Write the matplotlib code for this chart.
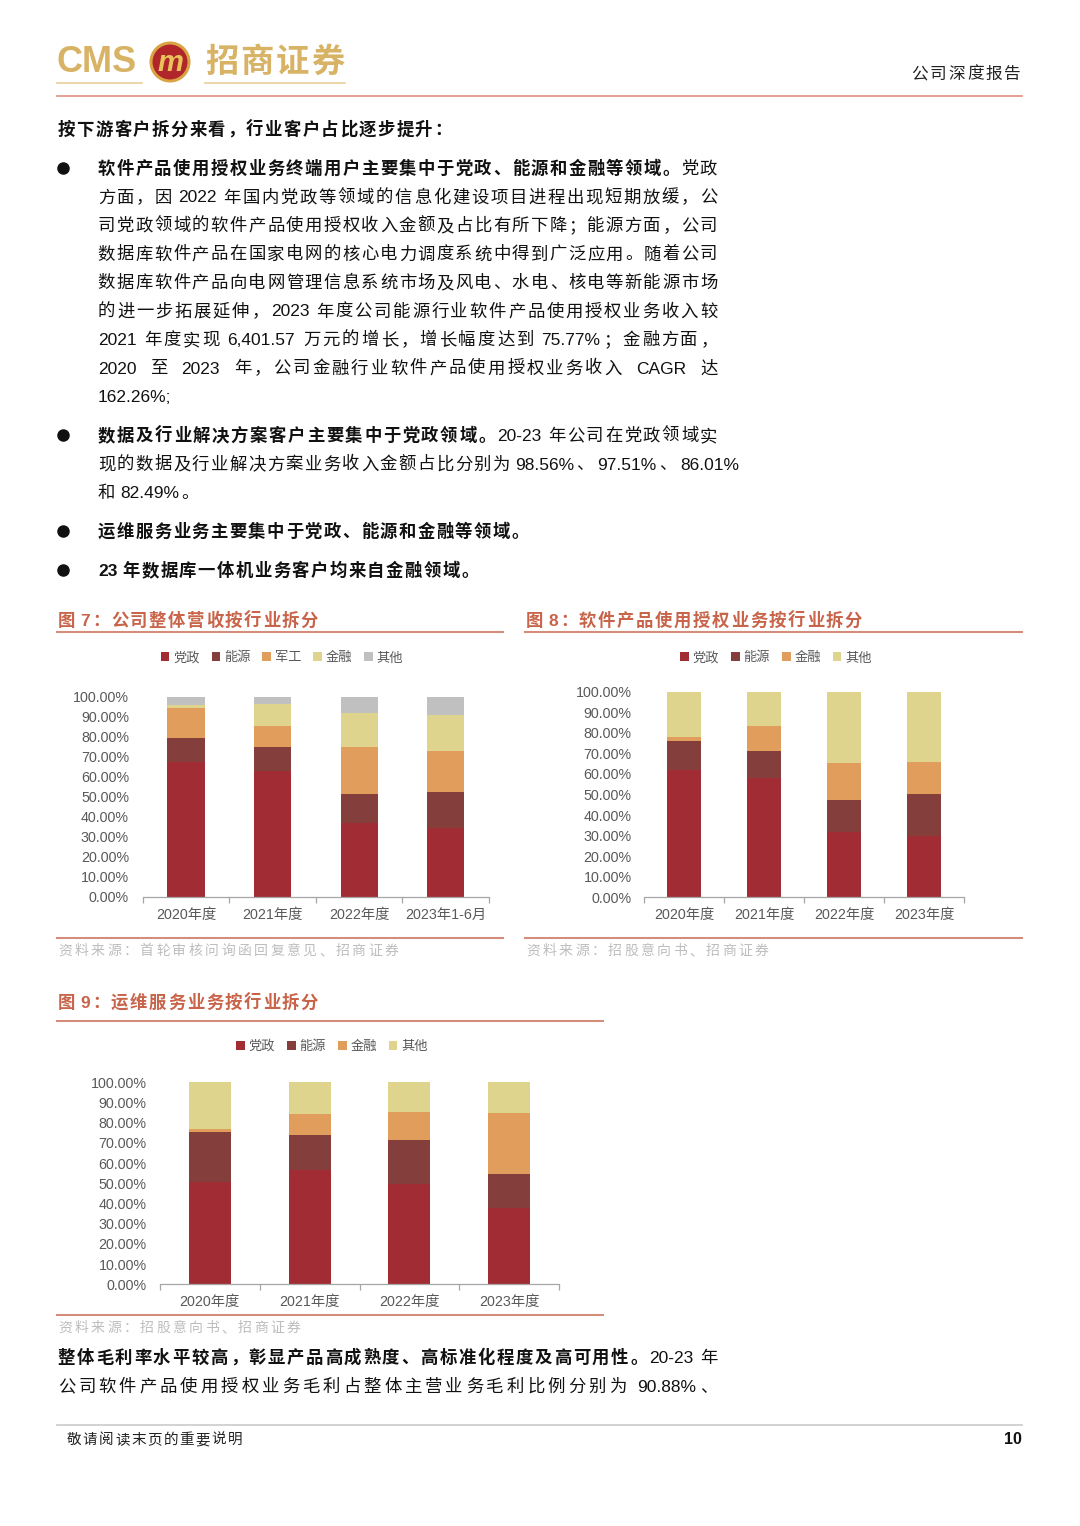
import numpy as np
import matplotlib
matplotlib.use('Agg')
import matplotlib.pyplot as plt
from matplotlib.patches import Circle

plt.rcParams['font.family'] = ['Liberation Sans', 'Noto Sans CJK SC', 'DejaVu Sans']

W, H = 1080, 1526

# 图7 公司整体营收按行业拆分 (%)
years7 = ['2020年度', '2021年度', '2022年度', '2023年1-6月']
names7 = ['党政', '能源', '军工', '金融', '其他']
dangzheng7 = [67.5, 62.8, 36.8, 34.2]
nengyuan7 = [12.0, 11.9, 14.7, 18.1]
jungong7 = [14.8, 10.8, 23.5, 20.5]
jinrong7 = [1.4, 10.8, 16.8, 17.9]
qita7 = [4.3, 3.7, 8.2, 9.3]

# 图8 软件产品使用授权业务按行业拆分 (%)
years8 = ['2020年度', '2021年度', '2022年度', '2023年度']
names8 = ['党政', '能源', '金融', '其他']
dangzheng8 = [61.9, 58.2, 31.9, 29.7]
nengyuan8 = [14.1, 13.1, 15.3, 20.5]
jinrong8 = [2.0, 12.0, 18.0, 15.8]
qita8 = [22.0, 16.7, 34.8, 34.0]

# 图9 运维服务业务按行业拆分 (%)
years9 = ['2020年度', '2021年度', '2022年度', '2023年度']
names9 = ['党政', '能源', '金融', '其他']
dangzheng9 = [50.7, 56.6, 49.8, 38.0]
nengyuan9 = [24.5, 17.3, 21.5, 16.6]
jinrong9 = [1.5, 10.3, 13.8, 30.4]
qita9 = [23.3, 15.8, 14.9, 15.0]

RED = '#A12C33'
BROWN = '#843F3C'
ORANGE = '#E19D5B'
BEIGE = '#DED48E'
GREY = '#C0C0C0'
TITLE_C = '#C8644A'
LINE_C = '#D38D7A'

fig = plt.figure(figsize=(W / 100, H / 100), dpi=100)
pg = fig.add_axes([0, 0, 1, 1], zorder=0)
pg.set_xlim(0, W)
pg.set_ylim(H, 0)
pg.axis('off')
renderer = fig.canvas.get_renderer()

CJK = ['Noto Sans CJK SC']
LAT = ['Liberation Sans']
PUNCT = '，。、；：'


def split_tokens(s):
    toks, buf = [], ''
    for ch in s:
        if ord(ch) < 128 and ch != ' ':
            buf += ch
        else:
            if buf:
                toks.append(buf)
                buf = ''
            toks.append(ch)
    if buf:
        toks.append(buf)
    return toks


def put_line(x0, yc, segs, adv, size, color='#111111', x1=None, space=3.5, sw=2):
    # segs: [(text, bold), ...]; yc is the visual centre of the line
    y = yc + size * 0.48
    items = []
    for txt, bold in segs:
        for tok in split_tokens(txt):
            items.append((tok, bold))
    widths, arts = [], []
    for k, (tok, bold) in enumerate(items):
        fw = 'bold' if bold else 'normal'
        if tok == ' ':
            widths.append(space)
            arts.append(None)
        elif ord(tok[0]) < 128:
            t = pg.text(0, y, tok, fontsize=size, fontweight=fw, color=color,
                        ha='left', va='baseline', family=LAT)
            widths.append(t.get_window_extent(renderer).width + 2)
            arts.append(t)
        else:
            ha = 'left' if tok in PUNCT else 'center'
            t = pg.text(0, y, tok, fontsize=size, fontweight=fw, color=color,
                        ha=ha, va='baseline', family=CJK)
            nxt = items[k + 1][0] if k + 1 < len(items) else ''
            if tok == '、' and nxt and ord(nxt[0]) < 128:
                widths.append(max(adv * 0.6, t.get_window_extent(renderer).width + 4))
            else:
                widths.append(adv)
            arts.append(t)
    n = len(items)
    weights = [sw if items[i][0] == ' ' or items[i + 1][0] == ' ' else 1
               for i in range(n - 1)] + [0]
    per = 0
    if x1 is not None and n > 1:
        per = (x1 - x0 - sum(widths)) / sum(weights)
    x = x0
    for (tok, bold), w, a, g in zip(items, widths, arts, weights):
        if a is not None:
            if ord(tok[0]) < 128:
                a.set_x(x + 1)
            elif tok in PUNCT:
                a.set_x(x + 1)
            else:
                a.set_x(x + adv / 2)
        x += w + g * per


# ---------- header ----------
pg.text(56, 62, 'CMS', fontsize=26, fontweight='bold', color='#D8B365',
        ha='left', va='center', family=LAT)
pg.add_patch(Circle((170, 62), 19, facecolor='#B0262B', edgecolor='#D9A441', lw=2.2))
pg.text(170, 63, 'm', fontsize=21, fontweight='bold', fontstyle='italic',
        color='#E8C35A', ha='center', va='center', family=LAT)
put_line(204, 60, [('招商证券', True)], 35.5, 24, color='#D8B365')
pg.plot([57, 142], [83, 83], color='#E8CF98', lw=1.2)
pg.plot([205, 345], [83, 83], color='#E8CF98', lw=1.2)
put_line(1022 - 6 * 18.7, 73, [('公司深度报告', False)], 18.7, 12, color='#222222')
pg.plot([57, 1022], [96, 96], color='#E3998A', lw=1.3)

# ---------- body text ----------
ADV, FS = 18.8, 12.5
BX, RX = 97, 718
put_line(57, 129, [('按下游客户拆分来看，行业客户占比逐步提升：', True)], ADV, FS)

para1 = [
    [('软件产品使用授权业务终端用户主要集中于党政、能源和金融等领域。', True), ('党政', False)],
    [('方面，因 2022 年国内党政等领域的信息化建设项目进程出现短期放缓，公', False)],
    [('司党政领域的软件产品使用授权收入金额及占比有所下降；能源方面，公司', False)],
    [('数据库软件产品在国家电网的核心电力调度系统中得到广泛应用。随着公司', False)],
    [('数据库软件产品向电网管理信息系统市场及风电、水电、核电等新能源市场', False)],
    [('的进一步拓展延伸，2023 年度公司能源行业软件产品使用授权业务收入较', False)],
    [('2021 年度实现 6,401.57 万元的增长，增长幅度达到 75.77%；金融方面，', False)],
    [('2020 至 2023 年，公司金融行业软件产品使用授权业务收入 CAGR 达', False)],
    [('162.26%;', False)],
]
for i, segs in enumerate(para1):
    yc = 168 + 28.5 * i
    sw = 6 if i == 7 else 2
    put_line(BX, yc, segs, ADV, FS, x1=RX if i < len(para1) - 1 else None, sw=sw)

para2 = [
    ([('数据及行业解决方案客户主要集中于党政领域。', True), ('20-23 年公司在党政领域实', False)], RX),
    ([('现的数据及行业解决方案业务收入金额占比分别为 98.56%、97.51%、86.01%', False)], None),
    ([('和 82.49%。', False)], None),
]
for i, (segs, x1) in enumerate(para2):
    put_line(BX, 435 + 28.5 * i, segs, ADV, FS, x1=x1)

put_line(BX, 531, [('运维服务业务主要集中于党政、能源和金融等领域。', True)], ADV, FS)
put_line(BX, 570, [('23 年数据库一体机业务客户均来自金融领域。', True)], ADV, FS)

for yb in [168, 435, 531, 570]:
    pg.plot([63], [yb], 'o', ms=8, color='#111111')

# ---------- figure titles / source lines ----------
put_line(57, 620, [('图 7：公司整体营收按行业拆分', True)], 19, 12.5, color=TITLE_C)
put_line(525, 620, [('图 8：软件产品使用授权业务按行业拆分', True)], 19, 12.5, color=TITLE_C)
put_line(57, 1002, [('图 9：运维服务业务按行业拆分', True)], 19, 12.5, color=TITLE_C)
for xa, xb, yy in [(57, 503, 632), (525, 1022, 632), (57, 503, 938), (525, 1022, 938),
                   (57, 603, 1021), (57, 603, 1315)]:
    pg.plot([xa, xb], [yy, yy], color=LINE_C, lw=1.5)

SRC_C = '#BDBDBD'
put_line(57, 950, [('资料来源：首轮审核问询函回复意见、招商证券', False)], 16.3, 10, color=SRC_C)
put_line(525, 950, [('资料来源：招股意向书、招商证券', False)], 16.3, 10, color=SRC_C)
put_line(57, 1327, [('资料来源：招股意向书、招商证券', False)], 16.3, 10, color=SRC_C)

# ---------- closing paragraph ----------
put_line(57, 1357, [('整体毛利率水平较高，彰显产品高成熟度、高标准化程度及高可用性。', True),
                    ('20-23 年', False)], ADV, FS, x1=RX)
put_line(57, 1386, [('公司软件产品使用授权业务毛利占整体主营业务毛利比例分别为 90.88%、', False)],
         ADV, FS, x1=RX)

# ---------- footer ----------
pg.plot([57, 1022], [1425, 1425], color='#CFCFCF', lw=1.3)
put_line(66, 1439, [('敬请阅读末页的重要说明', False)], 16.1, 10.5, color='#222222')
pg.text(1022, 1440, '10', fontsize=11.5, fontweight='bold', color='#111111',
        ha='right', va='center', family=LAT)

pg.set_xlim(0, W)
pg.set_ylim(H, 0)


# ---------- charts ----------
def stacked(rect, cats, series, names, colors, width, leg_xy, ypad):
    l, r, t, b = rect
    ax = fig.add_axes([l / W, 1 - b / H, (r - l) / W, (b - t) / H], zorder=2)
    ax.patch.set_alpha(0)
    x = np.arange(len(cats))
    bottom = np.zeros(len(cats))
    for vals, name, c in zip(series, names, colors):
        v = np.array(vals) / 100.0
        ax.bar(x, v, width, bottom=bottom, color=c, label=name, zorder=2)
        bottom += v
    ax.set_xlim(-0.5, len(cats) - 0.5)
    ax.set_ylim(0, 1)
    yt = np.arange(0, 11) / 10
    ax.set_yticks(yt)
    ax.set_yticklabels([f'{v * 100:.2f}%' for v in yt])
    ax.set_xticks(x)
    ax.set_xticklabels(cats)
    ax.set_xticks(np.arange(-0.5, len(cats)), minor=True)
    for s in ['top', 'right', 'left']:
        ax.spines[s].set_visible(False)
    ax.spines['bottom'].set_color('#A6A6A6')
    ax.spines['bottom'].set_linewidth(0.9)
    ax.tick_params(axis='y', length=0, pad=ypad, labelsize=10.3, labelcolor='#595959')
    ax.tick_params(axis='x', which='major', length=0, pad=8, labelsize=10.3,
                   labelcolor='#595959')
    ax.tick_params(axis='x', which='minor', length=4, width=0.9, color='#A6A6A6')
    ax.legend(loc='center', bbox_to_anchor=(leg_xy[0] / W, 1 - leg_xy[1] / H),
              bbox_transform=fig.transFigure, ncol=len(names), frameon=False,
              fontsize=9.5, handlelength=0.65, handleheight=0.65, handletextpad=0.3,
              columnspacing=0.9, labelcolor='#595959')
    return ax


stacked((142.7, 489, 696.7, 896.7), years7,
        [dangzheng7, nengyuan7, jungong7, jinrong7, qita7], names7,
        [RED, BROWN, ORANGE, BEIGE, GREY], 0.43, (282, 658), 9.9)
stacked((644.3, 964, 691.7, 897.3), years8,
        [dangzheng8, nengyuan8, jinrong8, qita8], names8,
        [RED, BROWN, ORANGE, BEIGE], 0.43, (776, 658), 9.0)
stacked((160, 559, 1082.3, 1284.3), years9,
        [dangzheng9, nengyuan9, jinrong9, qita9], names9,
        [RED, BROWN, ORANGE, BEIGE], 0.42, (332, 1046.7), 9.6)

fig.savefig('out.png', dpi=100)
